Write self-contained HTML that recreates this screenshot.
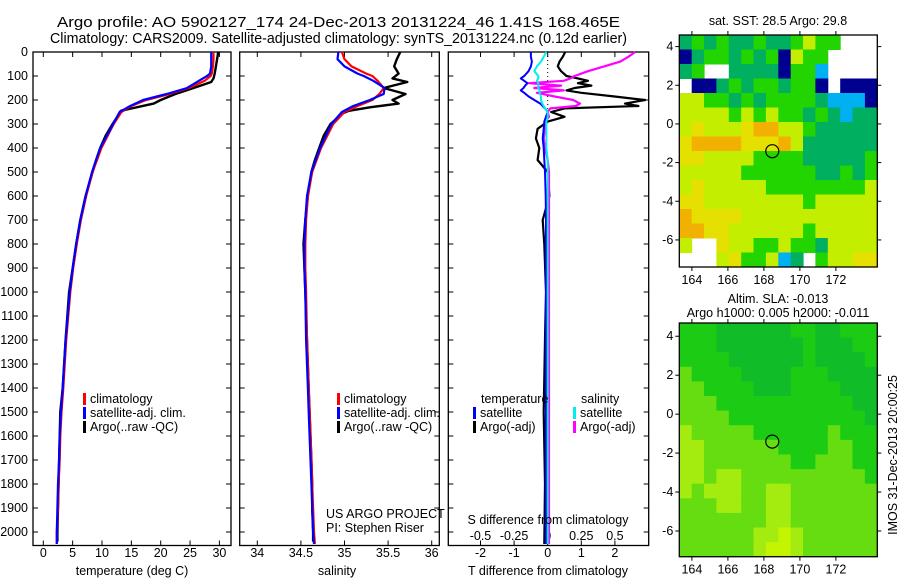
<!DOCTYPE html>
<html><head><meta charset="utf-8"><style>
body{margin:0;background:#fff;}
svg{display:block;font-family:"Liberation Sans",sans-serif;}
text{font-size:12.5px;fill:#000;}
</style></head><body>
<svg id="fig" width="900" height="580" viewBox="0 0 900 580">
<text x="57" y="27" textLength="563" lengthAdjust="spacingAndGlyphs" style="font-size:14.5px">Argo profile: AO 5902127_174 24-Dec-2013 20131224_46 1.41S 168.465E</text>
<text x="50" y="43" textLength="577" lengthAdjust="spacingAndGlyphs" style="font-size:14.5px">Climatology: CARS2009. Satellite-adjusted climatology: synTS_20131224.nc (0.12d earlier)</text>
<text x="778" y="25" text-anchor="middle">sat. SST: 28.5 Argo: 29.8</text>
<text x="778" y="303" text-anchor="middle">Altim. SLA: -0.013</text>
<text x="778" y="317" text-anchor="middle">Argo h1000: 0.005 h2000: -0.011</text>
<text transform="translate(897,455) rotate(-90)" text-anchor="middle">IMOS 31-Dec-2013 20:00:25</text>
<g id="g"></g>
</svg>
<script>
// ---------- data ----------
const depthTicks=[0,100,200,300,400,500,600,700,800,900,1000,1100,1200,1300,1400,1500,1600,1700,1800,1900,2000];
const tempTicks=[0,5,10,15,20,25,30];
const salTicks=[34,34.5,35,35.5,36];
const salTickLabels=["34","34.5","35","35.5","36"];
const tdiffTicks=[-2,-1,0,1,2];
const sdiffTicks=[-0.5,-0.25,0,0.25,0.5];
const sdiffLabels=["-0.5","-0.25","0","0.25","0.5"];
const profDepths=[0,30,60,90,100,120,150,175,200,225,250,300,400,500,600,700,800,900,1000,1200,1400,1500,1600,1700,1800,1900,2000,2050];
const tempClim=[29.0,29.0,28.9,28.7,28.5,27.5,24.8,21.5,17.5,15.0,13.3,12.0,9.9,8.4,7.3,6.4,5.7,5.1,4.6,3.9,3.4,3.1,2.9,2.8,2.6,2.5,2.3,2.3];
const tempSat=[28.6,28.6,28.6,28.4,27.9,26.5,24.5,21.0,17.0,14.8,13.0,11.9,9.7,8.3,7.2,6.3,5.6,5.0,4.5,3.8,3.3,3.0,2.8,2.7,2.5,2.4,2.3,2.3];
const argoDepths=[0,30,60,90,110,125,150,175,200,215,230,245,255,300,350,400,450,500,600,700,800,900,1000,1200,1400,1500,1600,1700,1800,1900,2000,2040];
const tempArgo=[29.8,29.6,29.4,29.2,29.0,28.6,25.6,22.5,20.0,18.8,16.0,13.2,13.0,11.8,10.6,9.7,9.0,8.4,7.2,6.3,5.6,5.0,4.4,3.8,3.3,2.9,2.8,2.7,2.6,2.5,2.4,2.4];
const salClim=[34.97,35.0,35.08,35.25,35.32,35.38,35.45,35.4,35.32,35.15,35.0,34.87,34.73,34.63,34.58,34.56,34.55,34.55,34.56,34.57,34.59,34.6,34.61,34.62,34.63,34.64,34.65,34.66];
const salSat=[34.93,34.92,35.0,35.15,35.22,35.33,35.46,35.45,35.29,35.1,34.97,34.85,34.72,34.62,34.57,34.55,34.54,34.54,34.55,34.56,34.58,34.59,34.6,34.61,34.62,34.63,34.64,34.65];
const salArgo=[35.64,35.6,35.57,35.62,35.55,35.72,35.45,35.7,35.55,35.62,35.3,35.05,34.98,34.84,34.76,34.71,34.66,34.62,34.58,34.55,34.53,34.54,34.55,34.57,34.59,34.6,34.61,34.62,34.63,34.63,34.64,34.64];
const diffDepths=[0,20,40,60,80,100,110,120,130,140,150,160,170,185,200,215,225,235,250,270,290,320,360,400,450,500,600,700,800,1000,1200,1500,1800,2050];
const tdiffSat=[-0.5,-0.5,-0.47,-0.5,-0.57,-0.7,-0.8,-0.7,-0.6,-0.67,-0.72,-0.8,-0.7,-0.57,-0.4,-0.22,-0.15,-0.08,0,-0.05,-0.1,-0.12,-0.15,-0.12,-0.1,-0.08,-0.06,-0.05,-0.05,-0.05,-0.05,-0.05,-0.05,-0.05];
const tdiffArgo=[0.52,0.45,0.35,0.3,0.4,0.56,0.9,1.2,0.9,1.3,0.8,0.56,1.0,1.96,2.9,2.3,2.7,0.5,0.1,0.5,0.0,-0.3,-0.35,-0.25,-0.3,0.0,0.05,-0.15,-0.1,-0.05,-0.08,-0.12,-0.08,-0.1];
const sdiffSat=[-0.01,-0.03,-0.05,-0.08,-0.1,-0.07,-0.07,-0.08,-0.07,-0.07,-0.07,-0.06,-0.06,-0.05,-0.05,-0.04,-0.03,-0.02,0,0,-0.01,-0.01,-0.01,-0.01,0,0,0,0,0,0,0,0,0,0];
const sdiffArgo=[0.65,0.6,0.54,0.42,0.3,0.2,0.17,0.12,-0.14,0.1,-0.1,0.12,-0.08,0.05,0.19,0.24,0.21,0.02,0.0,0.01,-0.02,-0.02,-0.03,-0.02,0.0,0.01,0.01,0.01,0.01,0.01,0.01,0.01,0.01,0.01];
const mapLonTicks=[164,166,168,170,172];
const mapLatTicks=[4,2,0,-2,-4,-6];
const argoLon=168.465, argoLat=-1.41;
const sstGrid=[
"tgtgttgttgyggwww","ntggtgtgnyggwwww","tgwwttttnggcwwww","wnntgtggtggnwnnn",
"yyggtgtggggtcccn","yyyygygyggtgtctt","yYyyyYooyygttttt","YooooYYYoytttttt",
"YYyyyyggggtttttg","yyyyyggggggttgtg","yYyyyyyggggggggy","YYyyyyyyyygyyyyy",
"oYYYYyyyyyyyyyyy","ooYYyyyyyygyyyyy","ywwYyyggyggtyyyy","wwwyYggyctwgyyYY"];
const slaGrid=[
"GGGDDDDDDGGDDGGG","GGGDDDDDDDGDDDGG","GGGGDDDDDDGDDDDG","LGGGGDDDDGGGDDDD",
"LLGGGGDDDGGGGDDD","LLLGGGGGGGGGGGDD","LLLLGGGGGGGGGGGD","YLLLLLGGGGGGLGGG",
"YYLLLLLLGGGGLLGG","YYLLLLLLLGGLLLGG","YYLYYLLLLLLLLLLG","YLYYYLLYYLLLLLLL",
"LLLYYLLYYLLLLLLL","LLLLLLLYYLLLLLLL","LLLLLLYYZYLLLLLL","LLLLLLYZZYLLLLLL"];
// ---------- drawing ----------
const NS="http://www.w3.org/2000/svg";
const G=document.getElementById('g');
function el(t,a,p){const e=document.createElementNS(NS,t);for(const k in a)e.setAttribute(k,a[k]);(p||G).appendChild(e);return e;}
const TOP=52,BOT=545.5;
const yD=d=>TOP+0.24*d;
const xT=t=>43.3+5.87*t;
const xS=s=>257.3+87.2*(s-34);
const xTd=t=>547.7+33.6*t;
const xSd=s=>547.7+134.4*s;
function panel(x0,x1,name){
  const r=el('rect',{x:x0,y:TOP,width:x1-x0,height:BOT-TOP,fill:'none',stroke:'#000','stroke-width':1.3});
  
  
  depthTicks.forEach(d=>{
    el('line',{x1:x0,x2:x0+5,y1:yD(d),y2:yD(d),stroke:'#000'});
    el('line',{x1:x1,x2:x1-5,y1:yD(d),y2:yD(d),stroke:'#000'});
  });
}
function xticks(vals,fx,labels,ly,name){
  vals.forEach((v,i)=>{const x=fx(v);
    el('line',{x1:x,x2:x,y1:BOT,y2:BOT-5,stroke:'#000'});
    el('line',{x1:x,x2:x,y1:TOP,y2:TOP+5,stroke:'#000'});
    if(labels){const t=el('text',{x:x,y:ly,'text-anchor':'middle'});t.textContent=labels[i];
      
      }
  });
}
function line(xs,ds,fx,color,name,w){
  const pts=xs.map((v,i)=>fx(v).toFixed(1)+','+yD(ds[i]).toFixed(1)).join(' ');
  const p=el('polyline',{points:pts,fill:'none',stroke:color,'stroke-width':w||2.2,'stroke-linejoin':'round'});
  
  
}
function txt(x,y,s,name,anchor){const t=el('text',{x:x,y:y,'text-anchor':anchor||'start'});t.textContent=s;
  
  return t;}
function leg(x,y,color,s,name){el('rect',{x:x,y:y-10,width:3,height:12,fill:color});txt(x+7,y,s,name);}
depthTicks.forEach(d=>{txt(28,yD(d)+4,String(d),'depth-tick-label','end');});
// panel 1
panel(33,231,'temperature-panel');
xticks(tempTicks,xT,tempTicks.map(String),557,'temperature-tick-label');
line(tempArgo,argoDepths,xT,'#000','temperature-argo-line',2.4);
line(tempClim,profDepths,xT,'#f00','temperature-climatology-line');
line(tempSat,profDepths,xT,'#00f','temperature-satellite-line');
txt(132,575,'temperature (deg C)','temperature-axis-title','middle');
leg(83,403,'#f00','climatology','legend-climatology');
leg(83,417,'#00f','satellite-adj. clim.','legend-satellite-adj');
leg(83,431,'#000','Argo(..raw -QC)','legend-argo');
// panel 2
panel(239.7,439.3,'salinity-panel');
xticks(salTicks,xS,salTickLabels,557,'salinity-tick-label');
line(salArgo,argoDepths,xS,'#000','salinity-argo-line',2.4);
line(salClim,profDepths,xS,'#f00','salinity-climatology-line');
line(salSat,profDepths,xS,'#00f','salinity-satellite-line');
txt(337,575,'salinity','salinity-axis-title','middle');
leg(337,403,'#f00','climatology','legend-climatology-2');
leg(337,417,'#00f','satellite-adj. clim.','legend-satellite-adj-2');
leg(337,431,'#000','Argo(..raw -QC)','legend-argo-2');
txt(326,518,'US ARGO PROJECT','project-label');
txt(326,532,'PI: Stephen Riser','pi-label');
// panel 3
panel(448.3,648.7,'difference-panel');
xticks(tdiffTicks,xTd,tdiffTicks.map(String),557,'tdiff-tick-label');
sdiffTicks.forEach((v,i)=>{txt(xSd(v),540,sdiffLabels[i],'sdiff-tick-label','middle');});
el('line',{x1:xTd(0),x2:xTd(0),y1:TOP,y2:yD(250),stroke:'#000','stroke-dasharray':'1,3'});
line(tdiffArgo,diffDepths,xTd,'#000','tdiff-argo-line',2.2);
line(sdiffArgo,diffDepths,xSd,'#f0f','sdiff-argo-line',2.2);
line(tdiffSat,diffDepths,xTd,'#00f','tdiff-satellite-line',2);
line(sdiffSat,diffDepths,xSd,'#0ee','sdiff-satellite-line',2);
txt(481,403,'temperature','legend-temperature-heading');
leg(473,417,'#00f','satellite','legend-tdiff-satellite');
leg(473,431,'#000','Argo(-adj)','legend-tdiff-argo');
txt(581,403,'salinity','legend-salinity-heading');
leg(573,417,'#0ee','satellite','legend-sdiff-satellite');
leg(573,431,'#f0f','Argo(-adj)','legend-sdiff-argo');
txt(548,524,'S difference from climatology','sdiff-axis-title','middle');
txt(548,575,'T difference from climatology','tdiff-axis-title','middle');
// maps
const LON0=163.3;
function map(grid,colors,top,bot,latTop,name){
  const L=679.3,R=877.3;
  const ppd=(bot-top)/12;
  const yL=lat=>top+(latTop-lat)*ppd;
  const nr=grid.length,nc=grid[0].length,cw=(R-L)/nc,ch=(bot-top)/nr;
  const g=el('g',{});
  
  
  grid.forEach((row,r)=>{for(let c=0;c<nc;c++){const k=row[c];if(k==='w')continue;
    el('rect',{x:(L+c*cw).toFixed(1),y:(top+r*ch).toFixed(1),width:(cw+0.5).toFixed(1),height:(ch+0.5).toFixed(1),fill:colors[k]},g);}});
  el('rect',{x:L,y:top,width:R-L,height:bot-top,fill:'none',stroke:'#000','stroke-width':1.3});
  mapLonTicks.forEach(v=>{const x=L+18*(v-LON0);
    el('line',{x1:x,x2:x,y1:bot,y2:bot+4,stroke:'#000'});el('line',{x1:x,x2:x,y1:top,y2:top-4,stroke:'#000'});
    txt(x,bot+17,String(v),'map-lon-label','middle');});
  mapLatTicks.forEach(v=>{const y=yL(v);
    el('line',{x1:L,x2:L-4,y1:y,y2:y,stroke:'#000'});el('line',{x1:R,x2:R+4,y1:y,y2:y,stroke:'#000'});
    txt(L-6,y+4,String(v),'map-lat-label','end');});
  const c=el('circle',{cx:L+18*(argoLon-LON0),cy:yL(argoLat),r:6.5,fill:'none',stroke:'#000','stroke-width':1.2});
  
  
}
map(sstGrid,{o:'#f2b000',Y:'#e6e000',y:'#c4ee00',g:'#22d400',t:'#00b060',c:'#00b0f0',b:'#0070f0',n:'#000090'},35,267,4.6,'sst-map');
map(slaGrid,{D:'#10bc28',G:'#1ccc14',L:'#66dd10',Y:'#a4ec10',Z:'#c4f400'},323,556.7,4.68,'sla-map');
</script>
</body></html>
